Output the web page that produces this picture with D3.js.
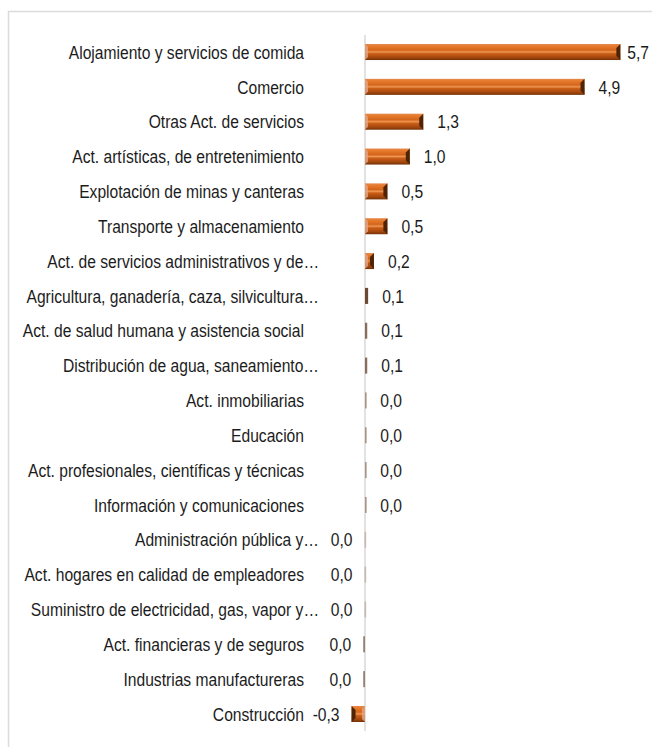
<!DOCTYPE html>
<html>
<head>
<meta charset="utf-8">
<script src="https://cdn.jsdelivr.net/npm/d3@7"></script>
<style>
  html, body { margin: 0; padding: 0; background: #fff; }
  svg { display: block; }
  text { font-family: "Liberation Sans", Arial, sans-serif; fill: #1c1c1c; }
</style>
</head>
<body>
<svg id="chart" width="652" height="747"></svg>
<script>
// Contribución por actividad económica (puntos)
const categories = [
  "Alojamiento y servicios de comida",
  "Comercio",
  "Otras Act. de servicios",
  "Act. artísticas, de entretenimiento",
  "Explotación de minas y canteras",
  "Transporte y almacenamiento",
  "Act. de servicios administrativos y de…",
  "Agricultura, ganadería, caza, silvicultura…",
  "Act. de salud humana y asistencia social",
  "Distribución de agua, saneamiento…",
  "Act. inmobiliarias",
  "Educación",
  "Act. profesionales, científicas y técnicas",
  "Información y comunicaciones",
  "Administración pública y…",
  "Act. hogares en calidad de empleadores",
  "Suministro de electricidad, gas, vapor y…",
  "Act. financieras y de seguros",
  "Industrias manufactureras",
  "Construcción"
];
const values = [5.7, 4.9, 1.3, 1.0, 0.5, 0.5, 0.2, 0.07, 0.05, 0.05,
                0.03, 0.03, 0.03, 0.03, -0.01, -0.01, -0.01, -0.04, -0.04, -0.3];

const data = categories.map((c, i) => ({ cat: c, value: values[i] }));

const svg = d3.select("#chart");
const W = 652, H = 747;

// outer frame (left and top edges visible)
svg.append("path")
  .attr("d", `M8.5,${H} L8.5,11.5 L${W},11.5`)
  .attr("fill", "none")
  .attr("stroke", "#dcdcdc")
  .attr("stroke-width", 1.5);

const pxPerUnit = 44.8, x0 = 365;
const x = d3.scaleLinear().domain([-0.5, 6]).range([x0 - 0.5 * pxPerUnit, x0 + 6 * pxPerUnit]);
const y = d3.scaleBand().domain(categories).range([34.6, 731.4]).paddingInner(0.54).paddingOuter(0.27);
const bh = y.bandwidth();
const barW = d => Math.abs(x(d.value) - x(0));

const fmt = v => {
  const r = Math.round(v * 10) / 10;
  return (r === 0 ? "0.0" : d3.format(".1f")(r)).replace(".", ",").replace("\u2212", "-");
};

// bevelled bar fill
const defs = svg.append("defs");
const grad = defs.append("linearGradient").attr("id", "barGrad")
  .attr("x1", 0).attr("y1", 0).attr("x2", 0).attr("y2", 1);
[
  [0, "#e48a50"], [0.12, "#e77c2e"], [0.38, "#d4651a"], [0.5, "#ee9552"],
  [0.6, "#cb5e16"], [0.85, "#a2460e"], [1, "#723106"]
].forEach(([o, c]) => grad.append("stop").attr("offset", o).attr("stop-color", c));

// zero axis
svg.append("line")
  .attr("x1", x(0)).attr("x2", x(0))
  .attr("y1", 35).attr("y2", 731)
  .attr("stroke", "#d9d9d9").attr("stroke-width", 1.5);

const bars = svg.append("g").selectAll("g").data(data).join("g");

// hairline bars read as a muted grey-brown edge
const thinTone = d3.interpolateRgb("#d4ccc5", "#6a4630");

bars.append("rect")
  .attr("x", d => Math.min(x(0), x(d.value)))
  .attr("y", d => y(d.cat))
  .attr("width", d => Math.max(barW(d), barW(d) < 4 ? 1.6 : 0))
  .attr("height", bh)
  .attr("fill", d => barW(d) < 4 ? thinTone(Math.min(1, barW(d) / 3.2)) : "url(#barGrad)");

const wide = bars.filter(d => barW(d) >= 4);

// dark bevel at the outer end of each bar
wide.append("polygon")
  .attr("points", d => {
    const xe = x(d.value), w = barW(d);
    const c = Math.min(4, w / 2), s = d.value >= 0 ? -1 : 1;
    const yt = y(d.cat), yb = yt + bh;
    return [[xe, yt], [xe + s * c, yt + c], [xe + s * c, yb - c], [xe, yb]].join(" ");
  })
  .attr("fill", "#4e2406");

// lighter bevel at the inner end
wide.append("polygon")
  .attr("points", d => {
    const xs = x(0), w = barW(d);
    const c = Math.min(3, w / 3), s = d.value >= 0 ? 1 : -1;
    const yt = y(d.cat), yb = yt + bh;
    return [[xs, yt], [xs + s * c, yt + c], [xs + s * c, yb - c], [xs, yb]].join(" ");
  })
  .attr("fill", "#e2a888").attr("opacity", 0.8);

// narrow lettering: glyphs compressed horizontally around their anchor
const fs = 18.5, sx = 0.845;
function narrowText(sel, xFn) {
  const g = sel.append("g");
  const t = g.append("text")
    .attr("x", 0).attr("y", 0)
    .attr("dy", "0.36em")
    .attr("font-size", fs);
  return { t, place: () => g.attr("transform", function (d) {
    const w = this.firstChild.getComputedTextLength() * sx;
    return `translate(${xFn(d, w)},${y(d.cat) + bh / 2}) scale(${sx},1)`;
  }) };
}

// value labels
const vl = narrowText(bars, (d, w) => {
  if (d.value < 0) return x(d.value) - 12;
  return Math.min(x(d.value) + 14, W - 3 - w);
});
vl.t.attr("text-anchor", d => d.value >= 0 ? "start" : "end").text(d => fmt(d.value));
vl.place();

// category labels
const cl = narrowText(bars, d => d.cat.endsWith("…") ? 319 : 304);
cl.t.attr("text-anchor", "end").text(d => d.cat);
cl.place();
</script>
</body>
</html>
